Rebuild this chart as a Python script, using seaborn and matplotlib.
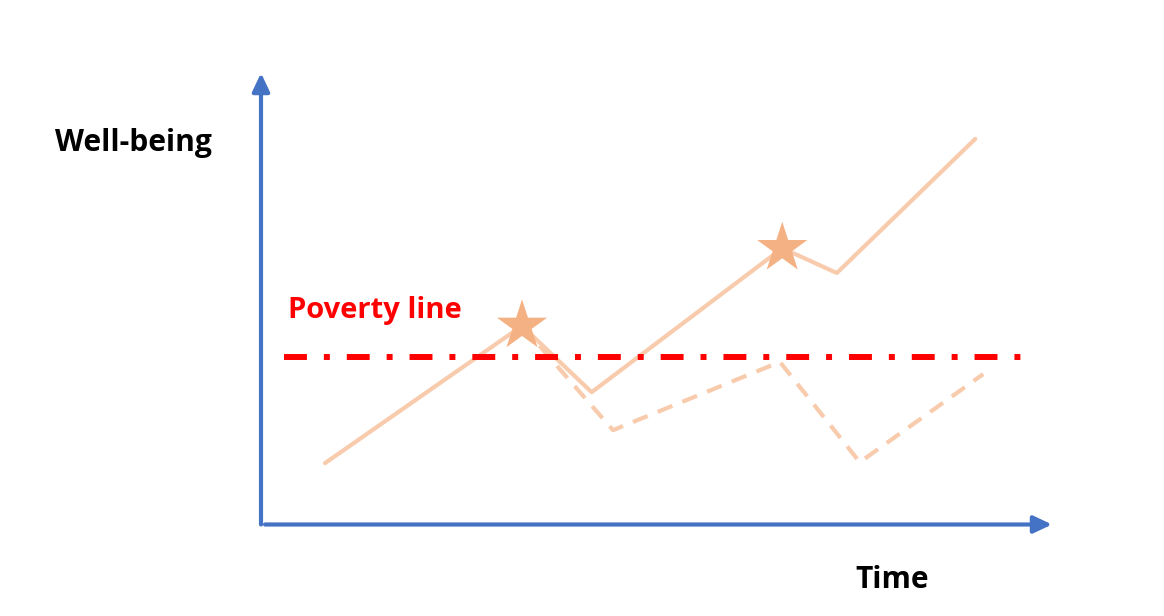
import pandas as pd
import seaborn as sns
import matplotlib.pyplot as plt

# path that crosses out of poverty (solid) and the one that falls back (dashed)
solid_time = [0.81, 3.30, 4.18, 6.59, 7.28, 9.03]
solid_wellbeing = [1.36, 4.40, 2.93, 6.12, 5.57, 8.54]

dashed_time = [3.30, 4.45, 6.56, 7.57, 9.13]
dashed_wellbeing = [4.40, 2.09, 3.60, 1.38, 3.33]

star_time = [3.30, 6.59]
star_wellbeing = [4.40, 6.12]

poverty_level = 3.71
poverty_start, poverty_end = 0.29, 9.675

df = pd.concat([
    pd.DataFrame({'Time': solid_time, 'Well-being': solid_wellbeing, 'path': 'Solid'}),
    pd.DataFrame({'Time': dashed_time, 'Well-being': dashed_wellbeing, 'path': 'Dashed'}),
])
stars = pd.DataFrame({'Time': star_time, 'Well-being': star_wellbeing})

sns.set_style('white')
plt.rcParams['font.family'] = ['Open Sans', 'DejaVu Sans']

fig = plt.figure(figsize=(11.64, 6.16), dpi=100)
W, H = 1164, 616
ax = fig.add_axes([261 / W, (H - 524.5) / H, 791 / W, 451.5 / H])

sns.lineplot(data=df, x='Time', y='Well-being', style='path', sort=False,
             dashes={'Solid': '', 'Dashed': (3.8, 2.6)}, color='#F8CBAD',
             linewidth=3, legend=False, ax=ax, zorder=2)

ax.plot([poverty_start, poverty_end], [poverty_level, poverty_level],
        color='#FF0000', linewidth=4.3, solid_capstyle='butt',
        dash_capstyle='butt',
        linestyle=(0, (16.5 / 4.3, 12.2 / 4.3, 4.3 / 4.3, 12.2 / 4.3)),
        zorder=3)

sns.scatterplot(data=stars, x='Time', y='Well-being', marker='*', s=1450,
                color='#F4B183', edgecolor='none', linewidth=0, ax=ax, zorder=4)

ax.set_xlim(0, 10)
ax.set_ylim(0, 10)
ax.axis('off')

# axes drawn as arrows
blue = '#4472C4'
ax.annotate('', xy=(0, 1), xytext=(0, 0), xycoords='axes fraction',
            arrowprops=dict(arrowstyle='-|>,head_length=11,head_width=5.2',
                            mutation_scale=1, color=blue, lw=3,
                            shrinkA=0, shrinkB=0), annotation_clip=False)
ax.annotate('', xy=(1, 0), xytext=(4 / 791, 0), xycoords='axes fraction',
            arrowprops=dict(arrowstyle='-|>,head_length=11,head_width=5.2',
                            mutation_scale=1, color=blue, lw=3,
                            shrinkA=0, shrinkB=0), annotation_clip=False)

fig.text(55 / W, (H - 151) / H, 'Well-being', fontsize=21.6, fontweight='bold',
         color='black', ha='left', va='baseline')
fig.text(288 / W, (H - 318) / H, 'Poverty line', fontsize=21, fontweight='bold',
         color='#FF0000', ha='left', va='baseline')
fig.text(855 / W, (H - 588) / H, 'Time', fontsize=21.5, fontweight='bold',
         color='black', ha='left', va='baseline')

plt.savefig('out.png', dpi=100)
